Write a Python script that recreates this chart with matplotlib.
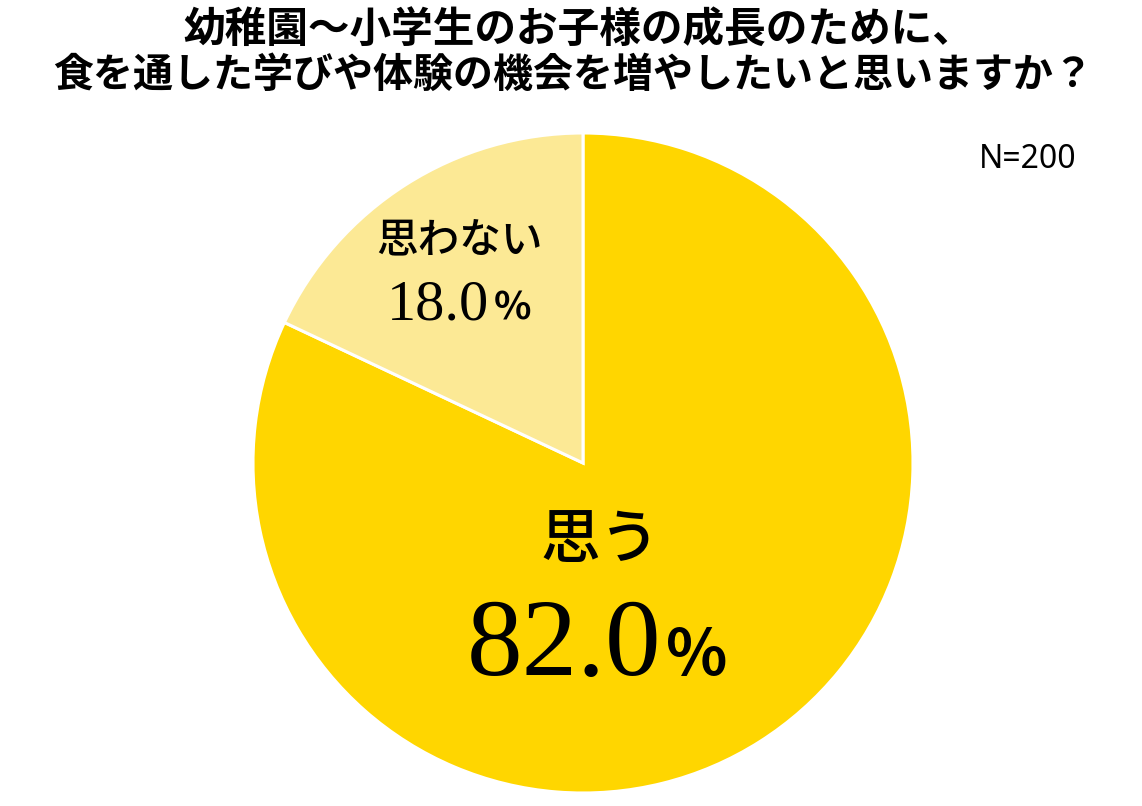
import matplotlib
matplotlib.use("Agg")
import matplotlib.pyplot as plt

W, H = 1142, 806

title_lines = ["幼稚園～小学生のお子様の成長のために、",
               "食を通した学びや体験の機会を増やしたいと思いますか？"]
categories = ["思う", "思わない"]
values = [82.0, 18.0]
colors = ["#FFD600", "#FCE995"]
n_label = "N=200"

plt.rcParams['font.family'] = ['Noto Sans CJK JP', 'DejaVu Sans']

fig = plt.figure(figsize=(W / 100, H / 100), dpi=100)
fig.patch.set_facecolor("white")

def fx(x):
    return x / W

def fy(y):
    return 1 - y / H

# pie axes: center (583, 463), radius 330 px
cx, cy, r = 583, 463, 330
ax = fig.add_axes([fx(cx - r), fy(cy + r), 2 * r / W, 2 * r / H])
ax.pie(values, colors=colors, startangle=90, counterclock=False,
       wedgeprops=dict(edgecolor="white", linewidth=2.2))
ax.set_xlim(-1, 1)
ax.set_ylim(-1, 1)
ax.set_aspect("auto")
ax.axis("off")

# title
fig.text(fx(579), fy(30), title_lines[0], ha="center", va="center",
         fontsize=30, fontweight="bold", color="black")
fig.text(fx(573), fy(75), title_lines[1], ha="center", va="center",
         fontsize=28.8, fontweight="bold", color="black")

# N label
fig.text(fx(1076), fy(160), n_label, ha="right", va="center",
         fontsize=23, family=["Noto Sans", "DejaVu Sans"], color="black")

# small slice label
fig.text(fx(459), fy(240), categories[1], ha="center", va="center",
         fontsize=30, fontweight="medium", color="black")
fig.text(fx(489), fy(320), f"{values[1]:.1f}", ha="right", va="baseline",
         fontsize=42, family=["Liberation Serif"], color="black")
fig.text(fx(494), fy(320), "%", ha="left", va="baseline",
         fontsize=28, fontweight="bold", color="black")

# big slice label
fig.text(fx(600), fy(540), categories[0], ha="center", va="center",
         fontsize=43, fontweight="medium", color="black")
fig.text(fx(661), fy(675), f"{values[0]:.1f}", ha="right", va="baseline",
         fontsize=80, family=["Liberation Serif"], color="black")
fig.text(fx(666), fy(675), "%", ha="left", va="baseline",
         fontsize=46, fontweight="bold", color="black")

fig.savefig("out.png", dpi=100, facecolor="white")
